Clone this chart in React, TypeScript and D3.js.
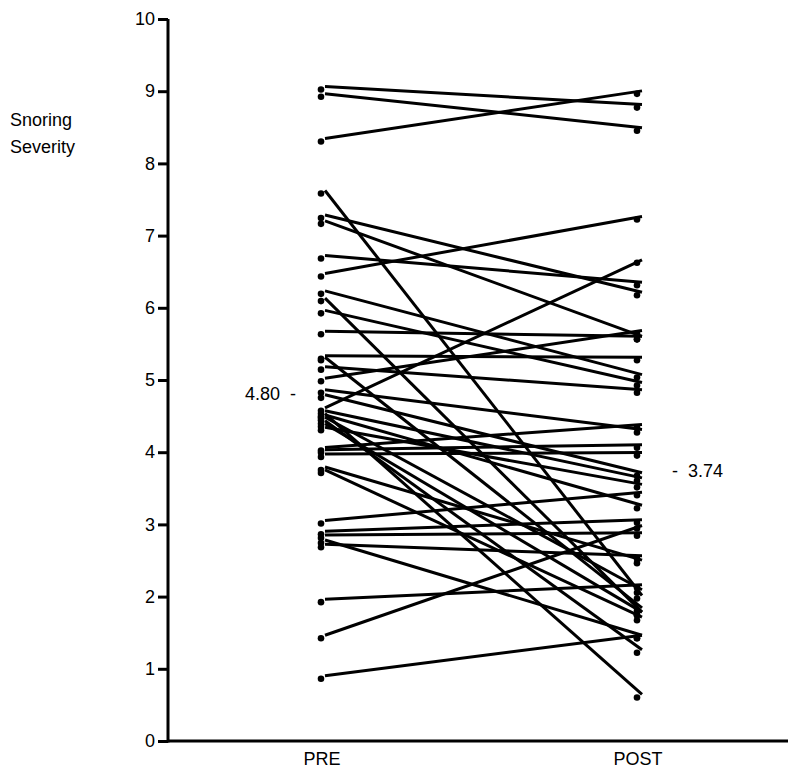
import React, { useEffect, useRef } from 'react';
import * as d3 from 'd3';

// paired observations: pre[i] -> post[i]
const pre = [9.03, 8.93, 8.31, 7.59, 7.25, 7.17, 6.69, 6.44, 6.2, 6.1, 5.93, 5.64, 5.3, 5.28, 5.15, 4.99, 4.83, 4.76, 4.58, 4.54, 4.5, 4.48, 4.45, 4.4, 4.36, 4.31, 4.03, 4.0, 3.94, 3.76, 3.72, 3.02, 2.87, 2.82, 2.75, 2.69, 1.93, 1.43, 0.87];
const post = [8.78, 8.46, 8.97, 1.98, 6.18, 5.57, 6.32, 7.23, 5.04, 1.75, 4.93, 5.57, 5.28, 1.81, 4.83, 5.65, 4.28, 3.68, 6.63, 3.61, 0.61, 3.23, 2.06, 1.23, 1.75, 3.52, 4.35, 4.07, 3.96, 2.47, 1.68, 3.41, 3.03, 2.85, 1.43, 2.53, 2.13, 2.95, 1.43];
const groups = ['PRE', 'POST'];
const yTicks = [0, 1, 2, 3, 4, 5, 6, 7, 8, 9, 10];
const meanPre = '4.80';
const meanPost = '3.74';

const App = () => {
  const svgRef = useRef<SVGSVGElement>(null);

  useEffect(() => {
    const svg = d3.select(svgRef.current);
    svg.selectAll('*').remove();

    const font = 'Liberation Sans, Arial, sans-serif';
    const fs = 18;
    const x = d3.scalePoint().domain(groups).range([322, 638]);
    const y = d3.scaleLinear().domain([0, 10]).range([741, 19]);
    const x0 = 168, x1 = 788;

    // y axis
    const yAxis = svg.append('g')
      .attr('transform', `translate(${x0},0)`)
      .call(d3.axisLeft(y).tickValues(yTicks).tickSize(10).tickPadding(3).tickFormat(d3.format('d')));
    yAxis.select('.domain').remove();
    yAxis.selectAll('line').attr('stroke', '#000').attr('stroke-width', 3);
    yAxis.selectAll('text').attr('font-family', font).attr('font-size', fs).attr('fill', '#000');
    svg.append('line').attr('x1', x0).attr('x2', x0).attr('y1', y(10)).attr('y2', y(0) + 1.5)
      .attr('stroke', '#000').attr('stroke-width', 3);

    // x axis
    svg.append('line').attr('x1', x0).attr('x2', x1).attr('y1', y(0)).attr('y2', y(0))
      .attr('stroke', '#000').attr('stroke-width', 3);
    svg.selectAll('.xlab').data(groups).enter().append('text')
      .attr('x', d => x(d)!)
      .attr('y', 765)
      .attr('text-anchor', 'middle')
      .attr('font-family', font).attr('font-size', fs)
      .text(d => d);

    const pairs = pre.map((p, i) => ({ p, q: post[i] }));

    svg.selectAll('.pair').data(pairs).enter().append('line')
      .attr('x1', x('PRE')! + 3).attr('y1', d => y(d.p) - 2.5)
      .attr('x2', x('POST')! + 4).attr('y2', d => y(d.q) - 2.5)
      .attr('stroke', '#000').attr('stroke-width', 3);

    svg.selectAll('.dpre').data(pairs).enter().append('circle')
      .attr('cx', x('PRE')! - 1).attr('cy', d => y(d.p) + 0.5).attr('r', 3.3).attr('fill', '#000');
    svg.selectAll('.dpost').data(pairs).enter().append('circle')
      .attr('cx', x('POST')! - 1).attr('cy', d => y(d.q) + 0.5).attr('r', 3.3).attr('fill', '#000');

    // group means
    svg.append('text').attr('x', 296).attr('y', y(+meanPre) + 6)
      .attr('text-anchor', 'end').attr('font-family', font).attr('font-size', fs)
      .style('white-space', 'pre')
      .text(`${meanPre}  -`);
    svg.append('text').attr('x', 672).attr('y', y(+meanPost) + 6)
      .attr('font-family', font).attr('font-size', fs)
      .style('white-space', 'pre')
      .text(`-  ${meanPost}`);

    // axis title
    const title = svg.append('text').attr('font-family', font).attr('font-size', fs);
    title.append('tspan').attr('x', 10).attr('y', 126).text('Snoring');
    title.append('tspan').attr('x', 10).attr('y', 153).text('Severity');
  }, []);

  return (
    <svg ref={svgRef} width={793} height={774}
      style={{ position: 'absolute', left: 0, top: 0, background: '#fff' }} />
  );
};

export default App;
